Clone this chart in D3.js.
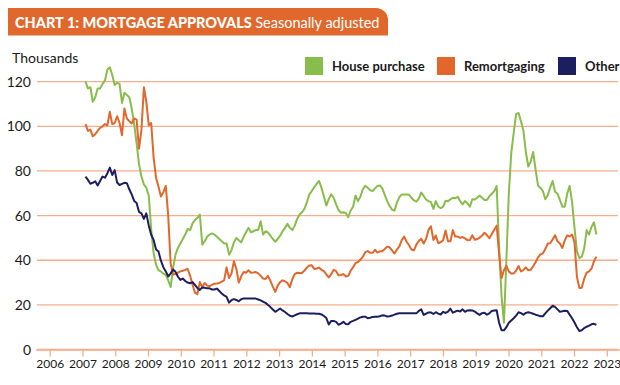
<!DOCTYPE html>
<html>
<head>
<meta charset="utf-8">
<script src="https://cdn.jsdelivr.net/npm/d3@7/dist/d3.min.js"></script>
<style>
  body { margin: 0; background: #fff; }
  svg { display: block; font-family: Lato, "Open Sans", sans-serif; }
</style>
</head>
<body>
<script>
// monthly approvals, thousands (seasonally adjusted)
const housePurchase = [
  120, 117, 117.5, 111, 113, 117, 117, 119, 120.5, 125.5,
  126.5, 123, 118.5, 119.5, 119, 110.5, 115, 114, 113, 108,
  101, 92.5, 83, 77.5, 74, 72.5, 69, 54, 43, 38,
  35.5, 35, 34, 33.5, 31, 28, 36.5, 42.5, 45.5, 47.5,
  49.5, 51.5, 54, 53.5, 56.5, 58, 59, 60.5, 47, 48.5,
  50.5, 51.5, 52, 51.5, 50.5, 49.5, 48.5, 47.5, 47.5, 42.5,
  44.5, 48, 50, 49, 48, 50.5, 52.5, 54.5, 52.5, 53,
  53.5, 53.5, 57.5, 51.5, 53, 52.5, 51, 49.5, 48.3, 49.5,
  51, 53, 54.5, 56.3, 54.5, 53.5, 55.5, 58.5, 60.5, 61.5,
  63, 66, 69.5, 71, 72.7, 74.2, 75.5, 72.5, 68.5, 64.5,
  67.5, 69.5, 68, 65, 62.5, 61.3, 61.5, 61.2, 59.3, 62.3,
  64, 69, 66.5, 68.5, 71.8, 73.3, 72.5, 71.4, 71, 72.2,
  73.3, 73.5, 72.2, 69.3, 66.5, 64.3, 62.7, 62.2, 65.8, 68.3,
  69.5, 69.5, 69.5, 69.3, 68, 66.8, 66.3, 67.6, 70.3, 68.8,
  67.2, 66.5, 66, 63, 66.5, 64, 63.3, 64, 66.7, 66.4,
  67.3, 68, 67.8, 68.4, 66.5, 65, 66.5, 65.5, 64, 67.3,
  67.2, 68, 69, 68, 67, 67, 68.6, 69.8, 71, 73.3,
  46, 24, 12, 40, 70, 88, 97, 105.5, 106, 102.3,
  98, 88.5, 82, 84.2, 88.5, 80.7, 73.5, 72.4, 71, 67.3,
  69.2, 72.5, 75.5, 70.7, 69.8, 67, 64, 64, 69.8, 73.3,
  66, 54.5, 44, 41, 41.6, 45.3, 53.5, 51.5, 55, 57, 51.5
];
const remortgaging = [
  101, 98, 98.5, 95.5, 96.5, 98, 99.3, 100, 101, 100.5,
  106.5, 101, 101.5, 104.5, 101.5, 96, 108, 103.5, 102.3, 101.3,
  103.5, 103, 90, 98.5, 117.5, 111, 100.5, 101.5, 86, 77,
  73, 68.5, 70.5, 73.3, 60, 38.6, 33.6, 33.8, 34.4, 35,
  35.3, 35.7, 36.2, 33, 29, 25.5, 24.8, 30.2, 28, 29.8,
  28.6, 28.4, 29, 29.5, 29.6, 29.8, 30.4, 31.1, 36.8, 32,
  34, 39.5, 36.2, 30, 32.8, 34.7, 34.4, 35.5, 34.4, 34.5,
  34.7, 34.1, 33, 31.8, 31.6, 33, 30.8, 28.2, 25.8, 28.6,
  30.2, 31, 30.6, 29.8, 27.9, 31.5, 33.8, 34.4, 34.3, 34.3,
  35.4, 36.7, 37.6, 37.7, 36.1, 36.3, 36.7, 35.7, 35.1, 33.6,
  32.3, 33.7, 35.7, 35.1, 33.3, 33.4, 33.8, 32.7, 33, 35.3,
  36.9, 38.7, 39.2, 40.2, 41.6, 43.6, 44.1, 43.4, 43.3, 44.7,
  43.4, 44, 44, 45, 46.1, 45.8, 44.4, 43, 44.8, 46.2,
  49, 50.6, 48.3, 46.7, 44.8, 44.4, 47, 48.6, 49.6, 47.5,
  49.6, 53.6, 55.2, 49.1, 51.1, 47.6, 48.1, 49, 53.3, 48.5,
  48.5, 53.5, 50.6, 50.6, 50, 50.4, 49.8, 49, 49.1, 51.2,
  49.2, 49.5, 50.1, 51.1, 52.3, 51.3, 49.9, 51.8, 53.6, 55.5,
  43, 32, 35.5, 37.5, 35, 34.1, 34.1, 35.3, 37.4, 35,
  35.6, 36.8, 35.5, 35.7, 37.3, 39.1, 41.3, 42.6, 43.1, 45,
  47.5, 47.6, 49.3, 51.2, 48.5, 47.5, 45.5, 48.9, 51.1, 50.6,
  51.5, 48, 32.5, 27.6, 27.7, 31.8, 34.4, 35, 36.3, 39.5, 41.6
];
const other = [
  77.5, 76, 74.3, 74.7, 75.4, 73.5, 75.5, 77.5, 77, 79,
  81.5, 78.2, 80.4, 74.8, 73.7, 74.2, 74.7, 74.5, 71.8, 69.5,
  66.6, 65.6, 61.7, 61, 58.5, 61, 55.6, 51.4, 49.1, 44.8,
  43.9, 39.8, 36.9, 35, 32.7, 34.1, 35.8, 34.8, 32.6, 31.2,
  31.8, 30.7, 30, 29.7, 30.2, 28.9, 27.6, 26.7, 27.8, 27.7,
  27.4, 27.4, 26.9, 26.9, 27.3, 26.2, 25.1, 24.2, 23.6, 21,
  22.1, 22.6, 22.2, 21.6, 22.5, 22.9, 22.9, 22.9, 22.9, 22.9,
  22.8, 22.4, 22, 21.4, 20.9, 20, 19, 17.9, 16.9, 17.6,
  18.4, 17.5, 16.8, 15.9, 15.1, 14.8, 15.3, 15.8, 16.2, 16.2,
  16.2, 16.2, 16.1, 16.1, 16.1, 16, 16, 15.7, 15, 14.1,
  11.2, 12.8, 12.8, 12.4, 11.1, 11.6, 12.4, 11.4, 11.3, 12.4,
  12.8, 13.3, 13.8, 14.4, 14.7, 14.7, 14, 14.2, 14.6, 14.7,
  14.7, 14.9, 15.3, 15.2, 14.8, 14.9, 15.2, 15.6, 16, 16.2,
  16.2, 16.2, 16.2, 16.2, 16.2, 16.2, 16.2, 17.3, 18, 15.5,
  16.1, 16.6, 16.6, 15.9, 16.7, 16.1, 15.7, 16.9, 16.4, 17,
  18.3, 16.5, 17, 17.4, 17, 18, 16.9, 17.5, 17.6, 17.5,
  17, 16.2, 15.5, 16.3, 16.5, 15.6, 16.2, 17.3, 17.5, 17.6,
  12, 8.6, 8.6, 10, 12, 13, 14, 15.2, 16.7, 16.3,
  15.6, 16.4, 16.7, 16.4, 16, 15.6, 15.3, 14.9, 14.9, 16.2,
  17.4, 18.5, 19.6, 19.1, 18, 16.9, 17.1, 17.4, 17.3, 15.6,
  14, 12.1, 10, 8.3, 8.6, 9.6, 10.2, 10.7, 11.3, 11.5, 11.1
];

const yearLabels = ["2006", "2007", "2008", "2009", "2010", "2011", "2012", "2013", "2014",
  "2015", "2016", "2017", "2018", "2019", "2020", "2021", "2022", "2023"];
const yTicks = [0, 20, 40, 60, 80, 100, 120];

const seriesNames = ["House purchase", "Remortgaging", "Other"];
const seriesData = [housePurchase, remortgaging, other];
const colors = ["#88bd4c", "#e2672b", "#1c1f5f"];

const width = 620, height = 385;
const gridColor = "#f4ae8d";

const svg = d3.select("body").append("svg")
  .attr("width", width)
  .attr("height", height);

// title bar
svg.append("path")
  .attr("d", "M8,8 H376 A12,12 0 0 1 388,20 V35.5 H8 Z")
  .attr("fill", "#e0682c");

const title = svg.append("text")
  .attr("x", 15)
  .attr("y", 27.5)
  .attr("fill", "#fff")
  .style("font-size", "14.5px");
title.append("tspan")
  .style("font-weight", "900")
  .text("CHART 1: MORTGAGE APPROVALS ");
title.append("tspan")
  .text("Seasonally adjusted");

// scales
var y = d3.scaleLinear().domain([0, 120]).range([349.5, 81.7]);
var xYear = d3.scalePoint().domain(yearLabels).range([49.7, 606.8]);
var x = d3.scaleLinear().domain([0, housePurchase.length - 1]).range([85.5, 596.4]);

// grid lines
svg.append("g")
  .selectAll("line")
  .data(yTicks)
  .enter()
  .append("line")
  .attr("x1", 37)
  .attr("x2", 618)
  .attr("y1", d => y(d))
  .attr("y2", d => y(d))
  .attr("stroke", gridColor)
  .attr("stroke-width", 1.3);

// y labels
svg.append("g")
  .selectAll("text")
  .data(yTicks)
  .enter()
  .append("text")
  .attr("x", 31)
  .attr("y", d => y(d))
  .attr("dy", "0.36em")
  .attr("text-anchor", "end")
  .attr("fill", "#1a1a1a")
  .style("font-size", "14px")
  .text(d => d);

svg.append("text")
  .attr("x", 12)
  .attr("y", 63)
  .attr("fill", "#1a1a1a")
  .style("font-size", "14px")
  .text("Thousands");

// x axis
var xAxis = d3.axisBottom(xYear).tickSize(7).tickPadding(3);
var gx = svg.append("g")
  .attr("transform", "translate(0," + y(0) + ")")
  .call(xAxis);
gx.select(".domain")
  .attr("d", "M36,0.5H620")
  .attr("stroke", gridColor)
  .attr("stroke-width", 1.3);
gx.selectAll(".tick line")
  .attr("stroke", gridColor)
  .attr("stroke-width", 1.3);
gx.selectAll(".tick text")
  .attr("fill", "#1a1a1a")
  .style("font-family", "Lato, sans-serif")
  .style("font-size", "12px");

// lines
var line = d3.line()
  .x((d, i) => x(i))
  .y(d => y(d));

svg.append("g")
  .selectAll("path")
  .data(seriesData)
  .enter()
  .append("path")
  .attr("d", d => line(d))
  .attr("fill", "none")
  .attr("stroke", (d, i) => colors[i])
  .attr("stroke-width", 2)
  .attr("stroke-linejoin", "round");

// legend
var legendX = [305, 437, 558];
var legend = svg.selectAll(".legend")
  .data(seriesNames)
  .enter()
  .append("g")
  .attr("class", "legend")
  .attr("transform", (d, i) => "translate(" + legendX[i] + ",57)");

legend.append("rect")
  .attr("width", 18)
  .attr("height", 18)
  .attr("fill", (d, i) => colors[i]);

legend.append("text")
  .attr("x", 27)
  .attr("y", 14)
  .attr("fill", "#1a1a1a")
  .style("font-size", "13px")
  .style("font-weight", "bold")
  .text(d => d);
</script>
</body>
</html>
